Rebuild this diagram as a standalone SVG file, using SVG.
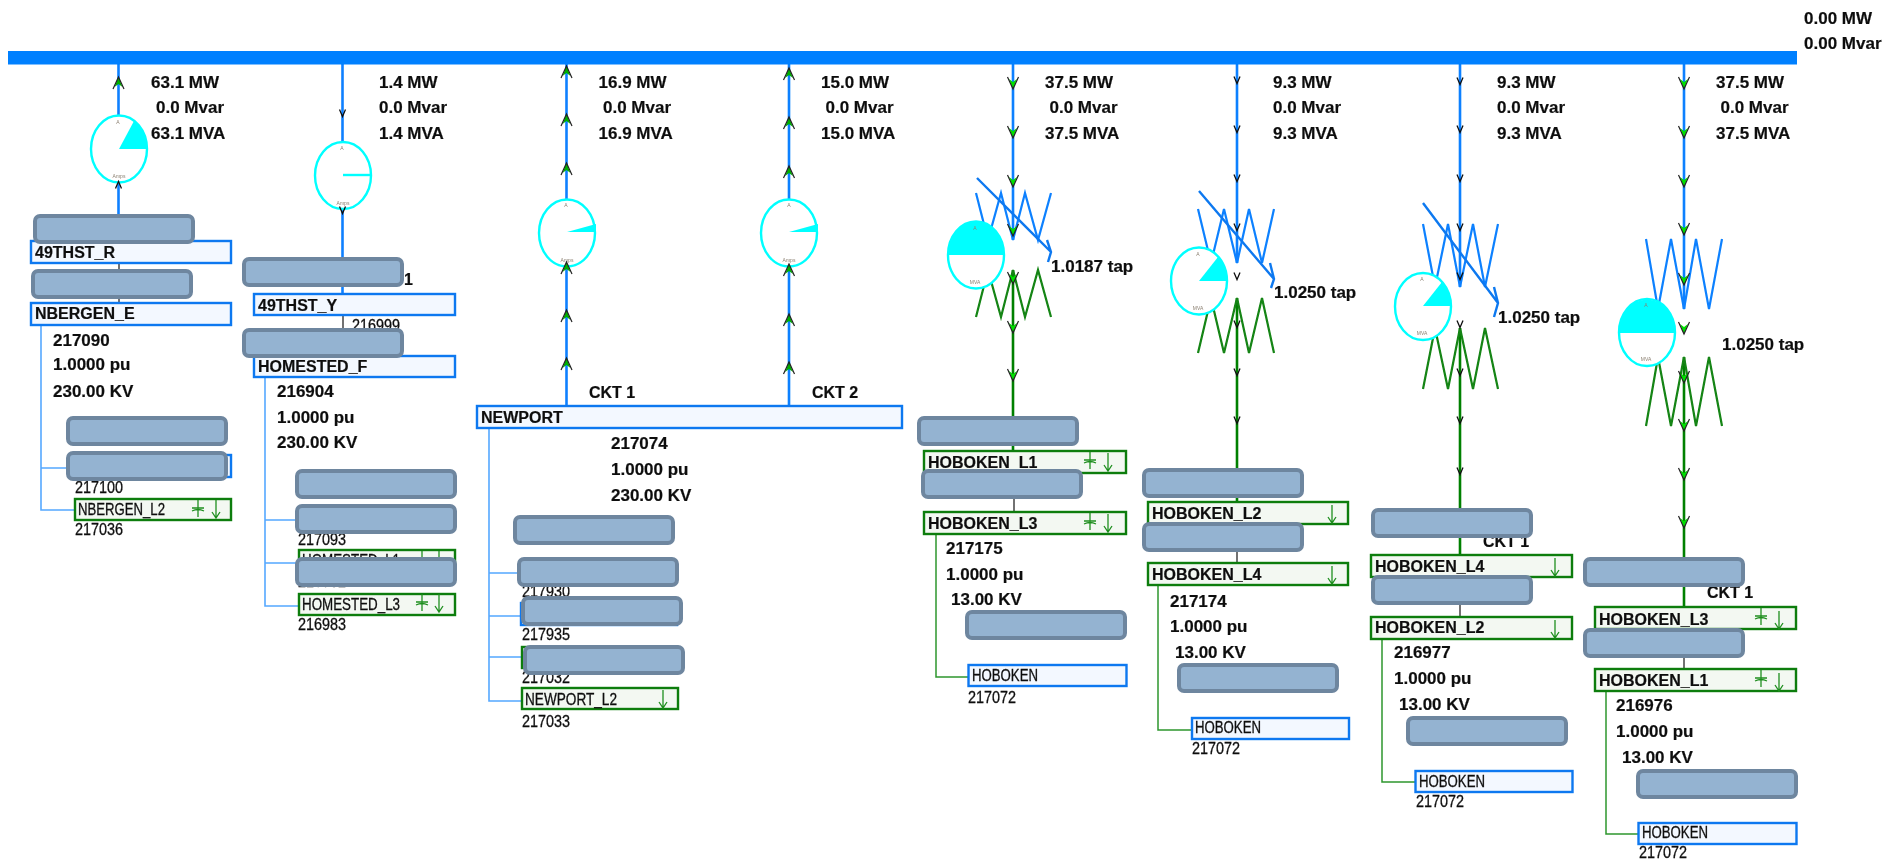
<svg xmlns="http://www.w3.org/2000/svg" width="1903" height="862" viewBox="0 0 1903 862">
<style>
text{font-family:"Liberation Sans",Arial,sans-serif;fill:#111}
.t{font-size:17px;font-weight:bold;stroke:#111;stroke-width:.2}
.n{font-size:16px;font-weight:bold;stroke:#111;stroke-width:.2}
.s{font-size:16px;stroke:#111;stroke-width:.3}
.g{font-size:5px;fill:#8a7f70;text-anchor:middle}
.bl{stroke:#0a80ff;stroke-width:2.6;fill:none}
.gl{stroke:#008000;stroke-width:2.6;fill:none}
.dk{stroke:#444;stroke-width:1.5;fill:none}
.bb{stroke:#55a8ff;stroke-width:1.6;fill:none}
.gb{stroke:#2c962c;stroke-width:1.5;fill:none}
.bz{stroke:#0a80ff;stroke-width:2.2;fill:none}
.gz{stroke:#128412;stroke-width:2.2;fill:none}
.tp{stroke:#0a78f0;stroke-width:2.4;fill:none}
.bus{fill:#f3f8ff;stroke:#0a78f0;stroke-width:2.4}
.lod{fill:#f3f8f2;stroke:#0a7d0a;stroke-width:2.4}
.gauge{fill:#fff;stroke:#00ffff;stroke-width:2.4}
.pie{fill:#00ffff;stroke:none}
.mask{fill:#94b3d1;stroke:#6e869f;stroke-width:4}
.sym{stroke:#1f8f1f;stroke-width:1.3;fill:none}
</style>
<defs>
<filter id="soft" x="0" y="0" width="100%" height="100%"><feGaussianBlur stdDeviation="0.4"/></filter>
<g id="ad"><path d="M-4,-4 L0,6 L4,-4 L0,-1 Z" fill="#00e000"/><path d="M-5.5,-6 L0,6 L5.5,-6" fill="none" stroke="#222" stroke-width="1.2"/></g>
<g id="au"><path d="M-4,4 L0,-6 L4,4 L0,1 Z" fill="#00b000"/><path d="M-5.5,6 L0,-6 L5.5,6" fill="none" stroke="#222" stroke-width="1.2"/></g>
<path id="ak" d="M-3,-3.5 L0,3.5 L3,-3.5" fill="none" stroke="#111" stroke-width="1.3"/>
<g id="cap" class="sym"><path d="M0,0 V17 M-6,8 H6 M-6,11 Q0,8 6,11"/></g>
<g id="ld" class="sym"><path d="M0,0 V18 M-4,12 L0,18 L4,12"/></g>
</defs>
<rect width="1903" height="862" fill="#fff"/>
<g id="diagram" filter="url(#soft)">
<g id="connectors">
<path class="bl" d="M118.500,64 V115 M118.500,183 V240"/>
<path class="bl" d="M342.500,64 V142 M342.500,209 V293"/>
<path class="bl" d="M566.500,64 V199 M566.500,267 V405"/>
<path class="bl" d="M789,64 V199 M789,267 V405"/>
<path class="bl" d="M1013,64 V240"/>
<path class="gl" d="M1013,270 V450"/>
<path class="bl" d="M1237,64 V263"/>
<path class="gl" d="M1237,298 V501"/>
<path class="bl" d="M1460,64 V287"/>
<path class="gl" d="M1460,328 V554"/>
<path class="bl" d="M1684,64 V309"/>
<path class="gl" d="M1684,357 V606"/>
<path class="dk" d="M119,264 V302 M343,316 V355 M1014,498 V511 M1237,551 V562 M1460,605 V616 M1684,658 V668"/>
<path class="bb" d="M41,326 V510 H74 M41,468 H74 M265,378 V606 H298 M265,520 H298 M265,563 H298 M489,429 V701 H521 M489,573 H520 M489,616 H520 M489,657 H521"/>
<path class="gb" d="M936,535 V677 H968 M1158,586 V730 H1191 M1382,640 V782 H1415 M1606,692 V834 H1638"/>
</g>
<g id="slack-bus"><rect x="8" y="51" width="1789" height="13.500" fill="#0080ff"/><text class="t" x="1804" y="24">0.00 MW</text><text class="t" x="1804" y="49">0.00 Mvar</text></g>
<g id="gauge-1"><ellipse class="gauge" cx="119" cy="149" rx="28" ry="33.500"/><path class="pie" d="M119,149 L147,149 A28,33.500 0 0 0 134,121 Z"/><text class="g" x="118" y="124">A</text><text class="g" x="119" y="178">Amps</text></g>
<g id="gauge-2"><ellipse class="gauge" cx="343" cy="175.500" rx="28" ry="33.500"/><path d="M343,175 H371" stroke="#00ffff" stroke-width="2.400"/><text class="g" x="342" y="150">A</text><text class="g" x="343" y="205">Amps</text></g>
<g id="gauge-3"><ellipse class="gauge" cx="567" cy="233" rx="28" ry="33.500"/><path class="pie" d="M567,232 H596 V224 Z"/><text class="g" x="566" y="207">A</text><text class="g" x="567" y="262">Amps</text></g>
<g id="gauge-4"><ellipse class="gauge" cx="789" cy="233" rx="28" ry="33.500"/><path class="pie" d="M789,232 H818 V224 Z"/><text class="g" x="789" y="207">A</text><text class="g" x="789" y="262">Amps</text></g>
<g id="xfmr-1"><path class="bz" d="M976,193 L988,240 L1001,193 L1013,240 L1025,193 L1038,240 L1051,193"/><path class="gz" d="M976,317 L988,270 L1001,317 L1013,270 L1025,317 L1038,270 L1051,317"/><path class="tp" d="M977,178 L1051,252 M1047,240 L1051,252 L1048,262"/><ellipse class="gauge" cx="976" cy="255" rx="28" ry="33.500"/><path class="pie" d="M948,255 A28,33.500 0 0 1 1004,255 Z"/><text class="g" x="975" y="230">A</text><text class="g" x="975" y="284">MVA</text><text class="t" x="1051" y="272">1.0187 tap</text></g>
<g id="xfmr-2"><path class="bz" d="M1198,209 L1211,263 L1224,209 L1237,263 L1249,209 L1262,263 L1274,209"/><path class="gz" d="M1198,353 L1211,298 L1224,353 L1237,298 L1249,353 L1262,298 L1274,353"/><path class="tp" d="M1199,191 L1274,279 M1270,263 L1274,279 L1271,288"/><ellipse class="gauge" cx="1199" cy="281" rx="28" ry="33.500"/><path class="pie" d="M1199,281 H1227 A28,33.500 0 0 0 1218,257 Z"/><text class="g" x="1198" y="256">A</text><text class="g" x="1198" y="310">MVA</text><text class="t" x="1274" y="298">1.0250 tap</text></g>
<g id="xfmr-3"><path class="bz" d="M1423,224 L1435,287 L1448,224 L1460,287 L1473,224 L1485,287 L1498,224"/><path class="gz" d="M1423,389 L1435,328 L1448,389 L1460,328 L1473,389 L1485,328 L1498,389"/><path class="tp" d="M1423,203 L1498,303 M1494,287 L1498,303 L1494,317"/><ellipse class="gauge" cx="1423" cy="306.500" rx="28" ry="33.500"/><path class="pie" d="M1423,306 H1451 A28,33.500 0 0 0 1442,282 Z"/><text class="g" x="1422" y="281">A</text><text class="g" x="1422" y="335">MVA</text><text class="t" x="1498" y="323">1.0250 tap</text></g>
<g id="xfmr-4"><path class="bz" d="M1646,239 L1658,309 L1671,239 L1684,309 L1696,239 L1709,309 L1722,239"/><path class="gz" d="M1646,426 L1658,357 L1671,426 L1684,357 L1696,426 L1709,357 L1722,426"/><ellipse class="gauge" cx="1647" cy="332.500" rx="28" ry="33.500"/><path class="pie" d="M1619,333 A28,33.500 0 0 1 1675,333 Z"/><text class="g" x="1646" y="307">A</text><text class="g" x="1646" y="361">MVA</text><text class="t" x="1722" y="350">1.0250 tap</text></g>
<g id="flow-arrows">
<use href="#au" x="118.500" y="83"/><use href="#ak" x="118.500" y="185" transform="rotate(180 118.500 185)"/>
<use href="#ak" x="342.500" y="113"/><use href="#ak" x="342.500" y="210"/>
<use href="#au" x="566.500" y="72"/><use href="#au" x="566.500" y="120"/><use href="#au" x="566.500" y="169"/><use href="#au" x="566.500" y="268"/><use href="#au" x="566.500" y="316"/><use href="#au" x="566.500" y="364"/>
<use href="#au" x="789" y="74"/><use href="#au" x="789" y="123"/><use href="#au" x="789" y="172"/><use href="#au" x="789" y="270"/><use href="#au" x="789" y="320"/><use href="#au" x="789" y="368"/>
<use href="#ad" x="1013" y="83"/><use href="#ad" x="1013" y="132"/><use href="#ad" x="1013" y="181"/><use href="#ad" x="1013" y="230"/><use href="#ad" x="1013" y="278"/><use href="#ad" x="1013" y="327"/><use href="#ad" x="1013" y="375"/>
<use href="#ak" x="1237" y="80"/><use href="#ak" x="1237" y="129"/><use href="#ak" x="1237" y="178"/><use href="#ak" x="1237" y="227"/><use href="#ak" x="1237" y="276"/><use href="#ak" x="1237" y="324"/><use href="#ak" x="1237" y="372"/><use href="#ak" x="1237" y="420"/>
<use href="#ak" x="1460" y="81"/><use href="#ak" x="1460" y="129"/><use href="#ak" x="1460" y="178"/><use href="#ak" x="1460" y="227"/><use href="#ak" x="1460" y="276"/><use href="#ak" x="1460" y="324"/><use href="#ak" x="1460" y="372"/><use href="#ak" x="1460" y="420"/><use href="#ak" x="1460" y="471"/>
<use href="#ad" x="1684" y="83"/><use href="#ad" x="1684" y="132"/><use href="#ad" x="1684" y="181"/><use href="#ad" x="1684" y="229"/><use href="#ad" x="1684" y="279"/><use href="#ad" x="1684" y="328"/><use href="#ad" x="1684" y="377"/><use href="#ad" x="1684" y="425"/><use href="#ad" x="1684" y="474"/><use href="#ad" x="1684" y="522"/>
</g>
<g id="flow-labels">
<text class="t" x="151" y="88">63.1 MW</text><text class="t" x="156" y="113">0.0 Mvar</text><text class="t" x="151" y="139">63.1 MVA</text>
<text class="t" x="379" y="88">1.4 MW</text><text class="t" x="379" y="113">0.0 Mvar</text><text class="t" x="379" y="139">1.4 MVA</text>
<text class="t" x="598.500" y="88">16.9 MW</text><text class="t" x="603" y="113">0.0 Mvar</text><text class="t" x="598.500" y="139">16.9 MVA</text>
<text class="t" x="821" y="88">15.0 MW</text><text class="t" x="825.500" y="113">0.0 Mvar</text><text class="t" x="821" y="139">15.0 MVA</text>
<text class="t" x="1045" y="88">37.5 MW</text><text class="t" x="1049.500" y="113">0.0 Mvar</text><text class="t" x="1045" y="139">37.5 MVA</text>
<text class="t" x="1273" y="88">9.3 MW</text><text class="t" x="1273" y="113">0.0 Mvar</text><text class="t" x="1273" y="139">9.3 MVA</text>
<text class="t" x="1497" y="88">9.3 MW</text><text class="t" x="1497" y="113">0.0 Mvar</text><text class="t" x="1497" y="139">9.3 MVA</text>
<text class="t" x="1716" y="88">37.5 MW</text><text class="t" x="1720.500" y="113">0.0 Mvar</text><text class="t" x="1716" y="139">37.5 MVA</text>
</g>
<g id="bus-49THST_R"><rect class="bus" x="31" y="241" width="200" height="22"/><text class="n" x="35" y="258">49THST_R</text></g>
<g id="bus-NBERGEN_E"><rect class="bus" x="31" y="303" width="200" height="22"/><text class="n" x="35" y="319">NBERGEN_E</text><text class="t" x="53" y="346">217090</text><text class="t" x="53" y="370">1.0000 pu</text><text class="t" x="53" y="397">230.00 KV</text></g>
<g id="bus-217100"><rect class="bus" x="75" y="455" width="156" height="22"/><text class="s" x="75" y="493" textLength="48" lengthAdjust="spacingAndGlyphs">217100</text></g>
<g id="load-NBERGEN_L2"><rect class="lod" x="75" y="499" width="156" height="21"/><text class="s" x="78" y="515" textLength="87" lengthAdjust="spacingAndGlyphs">NBERGEN_L2</text><use href="#cap" x="198" y="500"/><use href="#ld" x="216" y="500"/><text class="s" x="75" y="535" textLength="48" lengthAdjust="spacingAndGlyphs">217036</text></g>
<g id="bus-49THST_Y"><rect class="bus" x="254" y="294" width="201" height="21"/><text class="n" x="258" y="311">49THST_Y</text><text class="n" x="404" y="285">1</text><text class="s" x="352" y="331" textLength="48" lengthAdjust="spacingAndGlyphs">216999</text></g>
<g id="bus-HOMESTED_F"><rect class="bus" x="254" y="356" width="201" height="21"/><text class="n" x="258" y="372">HOMESTED_F</text><text class="t" x="277" y="397">216904</text><text class="t" x="277" y="423">1.0000 pu</text><text class="t" x="277" y="448">230.00 KV</text><text class="s" x="298" y="545" textLength="48" lengthAdjust="spacingAndGlyphs">217093</text></g>
<g id="load-HOMESTED_L1"><rect class="lod" x="299" y="550" width="156" height="21"/><text class="s" x="302" y="566" textLength="98" lengthAdjust="spacingAndGlyphs">HOMESTED_L1</text><use href="#cap" x="422" y="551"/><use href="#ld" x="439" y="551"/><text class="s" x="298" y="587" textLength="48" lengthAdjust="spacingAndGlyphs">216982</text></g>
<g id="load-HOMESTED_L3"><rect class="lod" x="299" y="594" width="156" height="21"/><text class="s" x="302" y="610" textLength="98" lengthAdjust="spacingAndGlyphs">HOMESTED_L3</text><use href="#cap" x="422" y="594"/><use href="#ld" x="439" y="594"/><text class="s" x="298" y="630" textLength="48" lengthAdjust="spacingAndGlyphs">216983</text></g>
<g id="bus-NEWPORT"><rect class="bus" x="477" y="406" width="425" height="22"/><text class="n" x="481" y="423">NEWPORT</text><text class="n" x="589" y="398">CKT 1</text><text class="n" x="812" y="398">CKT 2</text><text class="t" x="611" y="449">217074</text><text class="t" x="611" y="475">1.0000 pu</text><text class="t" x="611" y="501">230.00 KV</text></g>
<g id="bus-217935"><rect class="bus" x="521" y="603" width="156" height="22"/><text class="s" x="522" y="597" textLength="48" lengthAdjust="spacingAndGlyphs">217930</text><text class="s" x="522" y="640" textLength="48" lengthAdjust="spacingAndGlyphs">217935</text></g>
<g id="load-217032"><rect class="lod" x="522" y="647" width="156" height="21"/><text class="s" x="522" y="683" textLength="48" lengthAdjust="spacingAndGlyphs">217032</text></g>
<g id="load-NEWPORT_L2"><rect class="lod" x="522" y="688" width="156" height="21"/><text class="s" x="525" y="705" textLength="92" lengthAdjust="spacingAndGlyphs">NEWPORT_L2</text><use href="#ld" x="663" y="690"/><text class="s" x="522" y="727" textLength="48" lengthAdjust="spacingAndGlyphs">217033</text></g>
<g id="load-HOBOKEN_L1-a"><rect class="lod" x="924" y="451" width="202" height="22"/><text class="n" x="928" y="468">HOBOKEN_L1</text><use href="#cap" x="1090" y="452"/><use href="#ld" x="1108" y="453"/></g>
<g id="load-HOBOKEN_L3-a"><rect class="lod" x="924" y="512" width="202" height="22"/><text class="n" x="928" y="529">HOBOKEN_L3</text><use href="#cap" x="1090" y="513"/><use href="#ld" x="1108" y="514"/><text class="t" x="946" y="554">217175</text><text class="t" x="946" y="580">1.0000 pu</text><text class="t" x="951" y="605">13.00 KV</text></g>
<g id="bus-HOBOKEN-a"><rect class="bus" x="968.500" y="665" width="158" height="21"/><text class="s" x="972" y="681" textLength="66" lengthAdjust="spacingAndGlyphs">HOBOKEN</text><text class="s" x="968" y="703" textLength="48" lengthAdjust="spacingAndGlyphs">217072</text></g>
<g id="load-HOBOKEN_L2-b"><rect class="lod" x="1148" y="502" width="200" height="22"/><text class="n" x="1152" y="519">HOBOKEN_L2</text><use href="#ld" x="1332" y="505"/></g>
<g id="load-HOBOKEN_L4-b"><rect class="lod" x="1148" y="563" width="200" height="22"/><text class="n" x="1152" y="580">HOBOKEN_L4</text><use href="#ld" x="1332" y="566"/><text class="t" x="1170" y="607">217174</text><text class="t" x="1170" y="632">1.0000 pu</text><text class="t" x="1175" y="658">13.00 KV</text></g>
<g id="bus-HOBOKEN-b"><rect class="bus" x="1192" y="718" width="157" height="21"/><text class="s" x="1195" y="733" textLength="66" lengthAdjust="spacingAndGlyphs">HOBOKEN</text><text class="s" x="1192" y="754" textLength="48" lengthAdjust="spacingAndGlyphs">217072</text></g>
<g id="load-HOBOKEN_L4-c"><rect class="lod" x="1371" y="555" width="201" height="22"/><text class="n" x="1375" y="572">HOBOKEN_L4</text><use href="#ld" x="1555" y="558"/><text class="n" x="1483" y="547">CKT 1</text></g>
<g id="load-HOBOKEN_L2-c"><rect class="lod" x="1371" y="617" width="201" height="22"/><text class="n" x="1375" y="633">HOBOKEN_L2</text><use href="#ld" x="1555" y="620"/><text class="t" x="1394" y="658">216977</text><text class="t" x="1394" y="684">1.0000 pu</text><text class="t" x="1399" y="710">13.00 KV</text></g>
<g id="bus-HOBOKEN-c"><rect class="bus" x="1415.500" y="771" width="157" height="21"/><text class="s" x="1419" y="787" textLength="66" lengthAdjust="spacingAndGlyphs">HOBOKEN</text><text class="s" x="1416" y="807" textLength="48" lengthAdjust="spacingAndGlyphs">217072</text></g>
<g id="load-HOBOKEN_L3-d"><rect class="lod" x="1595" y="607" width="201" height="22"/><text class="n" x="1599" y="625">HOBOKEN_L3</text><text class="n" x="1707" y="598">CKT 1</text><use href="#cap" x="1761" y="608"/><use href="#ld" x="1779" y="611"/></g>
<g id="load-HOBOKEN_L1-d"><rect class="lod" x="1595" y="669" width="201" height="22"/><text class="n" x="1599" y="686">HOBOKEN_L1</text><use href="#cap" x="1761" y="670"/><use href="#ld" x="1779" y="673"/><text class="t" x="1616" y="711">216976</text><text class="t" x="1616" y="737">1.0000 pu</text><text class="t" x="1622" y="763">13.00 KV</text></g>
<g id="bus-HOBOKEN-d"><rect class="bus" x="1638.500" y="823" width="158" height="21"/><text class="s" x="1642" y="838" textLength="66" lengthAdjust="spacingAndGlyphs">HOBOKEN</text><text class="s" x="1639" y="858" textLength="48" lengthAdjust="spacingAndGlyphs">217072</text></g>
<g id="masks">
<rect class="mask" rx="5" x="35" y="216" width="158" height="26"/>
<rect class="mask" rx="5" x="33" y="271" width="158" height="26"/>
<rect class="mask" rx="5" x="68" y="418" width="158" height="26"/>
<rect class="mask" rx="5" x="68" y="453" width="158" height="26"/>
<rect class="mask" rx="5" x="244" y="259" width="158" height="26"/>
<rect class="mask" rx="5" x="244" y="330" width="158" height="26"/>
<rect class="mask" rx="5" x="297" y="471" width="158" height="26"/>
<rect class="mask" rx="5" x="297" y="506" width="158" height="26"/>
<rect class="mask" rx="5" x="297" y="559" width="158" height="26"/>
<rect class="mask" rx="5" x="515" y="517" width="158" height="26"/>
<rect class="mask" rx="5" x="519" y="559" width="158" height="26"/>
<rect class="mask" rx="5" x="523" y="598" width="158" height="26"/>
<rect class="mask" rx="5" x="525" y="647" width="158" height="26"/>
<rect class="mask" rx="5" x="919" y="418" width="158" height="26"/>
<rect class="mask" rx="5" x="923" y="471" width="158" height="26"/>
<rect class="mask" rx="5" x="967" y="612" width="158" height="26"/>
<rect class="mask" rx="5" x="1144" y="470" width="158" height="26"/>
<rect class="mask" rx="5" x="1144" y="524" width="158" height="26"/>
<rect class="mask" rx="5" x="1179" y="665" width="158" height="26"/>
<rect class="mask" rx="5" x="1373" y="510" width="158" height="26"/>
<rect class="mask" rx="5" x="1373" y="577" width="158" height="26"/>
<rect class="mask" rx="5" x="1408" y="718" width="158" height="26"/>
<rect class="mask" rx="5" x="1585" y="559" width="158" height="26"/>
<rect class="mask" rx="5" x="1585" y="630" width="158" height="26"/>
<rect class="mask" rx="5" x="1638" y="771" width="158" height="26"/>
</g>
</g>
</svg>
